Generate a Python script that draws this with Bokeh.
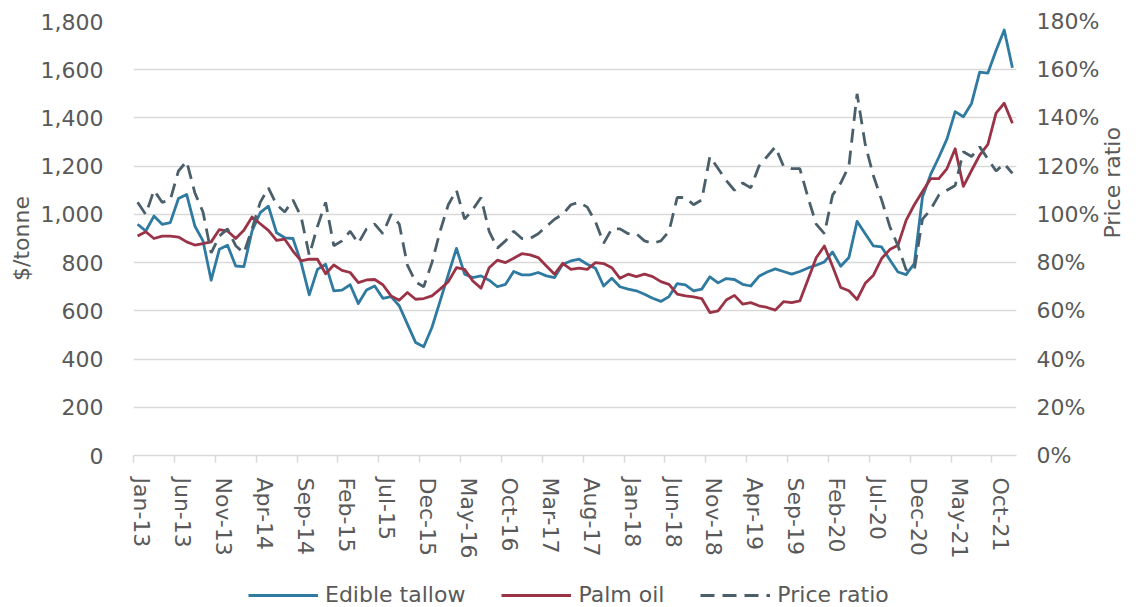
import math
from bokeh.plotting import figure
from bokeh.layouts import column
from bokeh.models import (Range1d, LinearAxis, FixedTicker, NumeralTickFormatter,
                          Legend, LegendItem, ColumnDataSource)
from bokeh.embed import file_html
from bokeh.resources import INLINE

# ---------------- data (monthly, Jan-13 .. Dec-21) ----------------
tick_labels = ["Jan-13", "Jun-13", "Nov-13", "Apr-14", "Sep-14", "Feb-15", "Jul-15",
               "Dec-15", "May-16", "Oct-16", "Mar-17", "Aug-17", "Jan-18", "Jun-18",
               "Nov-18", "Apr-19", "Sep-19", "Feb-20", "Jul-20", "Dec-20", "May-21",
               "Oct-21"]

edible_tallow = [959, 931, 993, 959, 966, 1066, 1083, 952, 890, 727,
                 855, 872, 786, 783, 931, 1007, 1034, 924, 903, 900,
                 800, 666, 772, 793, 683, 686, 708, 630, 686, 703,
                 652, 659, 621, 545, 469, 451, 531, 640, 750, 859,
                 752, 738, 745, 727, 700, 710, 763, 749, 749, 759,
                 745, 738, 793, 807, 814, 793, 777, 703, 735, 700,
                 690, 683, 669, 652, 639, 659, 713, 708, 683, 690,
                 741, 716, 734, 730, 710, 703, 743, 761, 774, 763,
                 752, 763, 778, 789, 803, 844, 785, 821, 971, 920,
                 869, 865, 812, 761, 750, 796, 1072, 1166, 1237, 1313,
                 1426, 1405, 1460, 1590, 1586, 1680, 1765, 1608]

palm_oil = [910, 928, 900, 910, 910, 906, 886, 873, 879, 886,
            937, 931, 900, 934, 989, 961, 934, 892, 897, 848,
            807, 814, 814, 754, 790, 768, 759, 717, 728, 730,
            708, 662, 644, 676, 648, 651, 662, 690, 721, 779,
            772, 724, 694, 779, 810, 800, 818, 837, 832, 821,
            786, 752, 797, 772, 777, 772, 800, 796, 779, 735,
            752, 742, 752, 742, 721, 710, 669, 662, 658, 651,
            593, 600, 645, 664, 628, 634, 621, 614, 603, 638,
            634, 641, 730, 820, 869, 785, 697, 683, 647, 714,
            748, 817, 854, 872, 975, 1040, 1095, 1148, 1148, 1190,
            1272, 1116, 1182, 1246, 1290, 1420, 1461, 1378]

price_ratio = [1.05, 1.00, 1.10, 1.05, 1.06, 1.18, 1.22, 1.09, 1.01, 0.84,
               0.91, 0.94, 0.87, 0.84, 0.94, 1.05, 1.11, 1.04, 1.01, 1.06,
               0.99, 0.83, 0.95, 1.05, 0.87, 0.89, 0.93, 0.88, 0.94, 0.96,
               0.92, 1.00, 0.96, 0.79, 0.72, 0.70, 0.80, 0.93, 1.04, 1.10,
               0.98, 1.02, 1.07, 0.93, 0.86, 0.89, 0.93, 0.90, 0.90, 0.92,
               0.95, 0.98, 1.00, 1.04, 1.05, 1.03, 0.97, 0.88, 0.94, 0.94,
               0.92, 0.92, 0.89, 0.88, 0.89, 0.93, 1.07, 1.07, 1.04, 1.06,
               1.24, 1.19, 1.14, 1.10, 1.13, 1.11, 1.20, 1.24, 1.28, 1.20,
               1.19, 1.19, 1.07, 0.96, 0.92, 1.08, 1.13, 1.20, 1.50, 1.29,
               1.16, 1.06, 0.95, 0.87, 0.77, 0.77, 0.98, 1.02, 1.08, 1.10,
               1.12, 1.26, 1.24, 1.28, 1.23, 1.18, 1.21, 1.17]

series_names = ["Edible tallow", "Palm oil", "Price ratio"]

# ---------------- styling ----------------
FONT = "DejaVu Sans"
TXT = "#595959"
GRID = "#d9d9d9"
BLUE = "#2f7aa0"
RED = "#9b3347"
SLATE = "#4b5f6b"
LW = 2.8
DASH = "14 8"
BORDER_L, BORDER_R = 133, 122

# ---------------- main chart ----------------
n = len(edible_tallow)
month_pos = list(range(n))
src = ColumnDataSource(dict(x=month_pos, tallow=edible_tallow, palm=palm_oil, ratio=price_ratio))

p = figure(width=1140, height=561, x_range=Range1d(-0.5, n - 0.5), y_range=Range1d(0, 1800),
           output_backend="svg", toolbar_location=None,
           min_border_left=BORDER_L, min_border_right=BORDER_R, min_border_top=21,
           min_border_bottom=106)
p.outline_line_color = None
p.background_fill_color = "white"
p.border_fill_color = "white"
p.extra_y_ranges = {"ratio": Range1d(0, 1.8)}

p.xgrid.visible = False
p.ygrid.grid_line_color = GRID
p.ygrid.grid_line_width = 1.5
p.ygrid.ticker = FixedTicker(ticks=list(range(0, 1801, 200)))

# labels sit on every 5th month; tick marks on the month boundaries
tick_idx = list(range(0, n, 5))
label_pos = [round(t + 0.5, 2) for t in tick_idx]   # nudged so the rotated text centres on the month
xa = p.xaxis[0]
xa.ticker = FixedTicker(ticks=label_pos, minor_ticks=[t - 0.5 for t in tick_idx])
xa.major_label_overrides = {lp: lab for lp, lab in zip(label_pos, tick_labels)}
xa.major_label_orientation = "vertical"
xa.major_tick_line_color = None
xa.major_tick_out = 0
xa.major_tick_in = 0
xa.minor_tick_line_color = GRID
xa.minor_tick_line_width = 1.5
xa.minor_tick_out = 7
xa.minor_tick_in = 0
xa.axis_line_color = GRID
xa.axis_line_width = 1.5
xa.major_label_standoff = 15
xa.major_label_text_font = FONT
xa.major_label_text_font_size = "22px"
xa.major_label_text_color = TXT

ya = p.yaxis[0]
ya.ticker = FixedTicker(ticks=list(range(0, 1801, 200)))
ya.formatter = NumeralTickFormatter(format="0,0")
ya.axis_line_color = None
ya.major_tick_line_color = None
ya.minor_tick_line_color = None
ya.major_tick_out = 0
ya.major_label_standoff = 30
ya.major_label_text_font = FONT
ya.major_label_text_font_size = "22px"
ya.major_label_text_color = TXT
ya.axis_label = "$/tonne"
ya.axis_label_text_font = FONT
ya.axis_label_text_font_size = "22px"
ya.axis_label_text_font_style = "normal"
ya.axis_label_text_color = TXT
ya.axis_label_standoff = 4

ra = LinearAxis(y_range_name="ratio", ticker=FixedTicker(ticks=[i / 10 for i in range(0, 19, 2)]),
                formatter=NumeralTickFormatter(format="0%"))
ra.axis_line_color = None
ra.major_tick_line_color = None
ra.minor_tick_line_color = None
ra.major_tick_out = 0
ra.major_label_standoff = 20
ra.major_label_text_font = FONT
ra.major_label_text_font_size = "22px"
ra.major_label_text_color = TXT
ra.axis_label = "Price ratio"
ra.axis_label_text_font = FONT
ra.axis_label_text_font_size = "22px"
ra.axis_label_text_font_style = "normal"
ra.axis_label_text_color = TXT
ra.axis_label_standoff = 10
ra.axis_label_orientation = math.pi / 2
p.add_layout(ra, "right")

p.line("x", "tallow", source=src, line_color=BLUE, line_width=LW, line_join="round")
p.line("x", "palm", source=src, line_color=RED, line_width=LW, line_join="round")
p.line("x", "ratio", source=src, y_range_name="ratio", line_color=SLATE, line_width=LW,
       line_dash=DASH)

# ---------------- legend strip ----------------
leg = figure(width=1140, height=46, x_range=Range1d(0, 1), y_range=Range1d(0, 1),
             output_backend="svg", toolbar_location=None,
             x_axis_location=None, y_axis_location=None,
             min_border_left=BORDER_L, min_border_right=BORDER_R, min_border_top=0,
             min_border_bottom=0)
leg.outline_line_color = None
leg.xgrid.visible = False
leg.ygrid.visible = False
# key swatches only: their points lie outside the strip's ranges, so only the legend shows them
offscreen = ColumnDataSource(dict(x=[5, 6], y=[5, 6]))
k1 = leg.line("x", "y", source=offscreen, line_color=BLUE, line_width=LW)
k2 = leg.line("x", "y", source=offscreen, line_color=RED, line_width=LW)
k3 = leg.line("x", "y", source=offscreen, line_color=SLATE, line_width=LW, line_dash=DASH)

legend = Legend(items=[LegendItem(label=series_names[0], renderers=[k1]),
                       LegendItem(label=series_names[1], renderers=[k2]),
                       LegendItem(label=series_names[2], renderers=[k3])],
                orientation="horizontal", location=(248 - BORDER_L, 0))
legend.border_line_color = None
legend.background_fill_alpha = 0
legend.padding = 0
legend.margin = 0
legend.spacing = 36
legend.glyph_width = 70
legend.label_standoff = 7
legend.label_text_font = FONT
legend.label_text_font_size = "22px"
legend.label_text_color = TXT
leg.add_layout(legend, "center")

layout = column(p, leg, spacing=0)
open("out.html", "w").write(file_html(layout, INLINE))
